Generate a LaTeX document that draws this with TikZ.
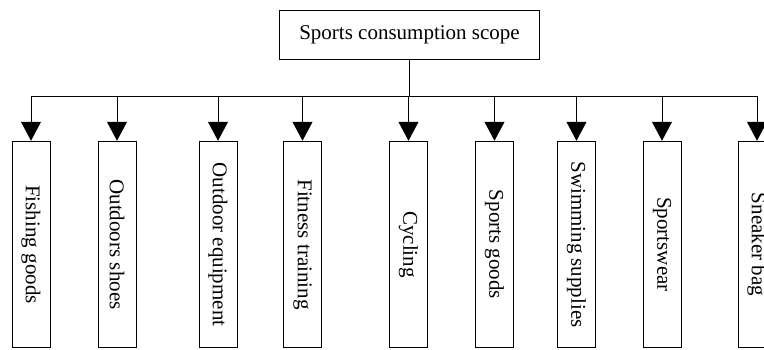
\documentclass[tikz,border=0pt]{standalone}
\usepackage{fontspec}
\setmainfont{Liberation Serif}
\usetikzlibrary{arrows.meta}
\tikzset{
  topbox/.style={draw, line width=1pt, minimum width=260pt, minimum height=49pt, inner sep=0pt, font=\fontsize{21}{25}\selectfont},
  catbox/.style={draw, line width=1pt, minimum width=38pt, minimum height=206.5pt, inner sep=0pt},
  cattext/.style={rotate=-90, font=\fontsize{21}{25}\selectfont, inner sep=0pt},
  wire/.style={line width=1pt},
  arrowwire/.style={line width=1pt, -{Triangle[width=20pt,length=19pt]}, shorten >=0pt}
}
\begin{document}
\begin{tikzpicture}[x=1pt, y=-1pt]
\useasboundingbox (0,0) rectangle (764,349);
\clip (0,0) rectangle (764,349);
\node[topbox] (top) at (409.5,34.5) {Sports consumption scope};
\coordinate (busL) at (31,96);
\coordinate (busR) at (757,96);
\draw[wire] (top.south) -- (top.south |- busL);
\draw[wire] (busL) -- (busR);
\foreach \nm/\xx/\txt in {c1/31/Fishing goods, c2/117/Outdoors shoes, c3/218/Outdoor equipment, c4/302.5/Fitness training, c5/408.5/Cycling, c6/494.5/Sports goods, c7/576.5/Swimming supplies, c8/662/Sportswear, c9/757/Sneaker bag}{
  \node[catbox] (\nm) at (\xx,244.5) {};
  \node[cattext] (\nm t) at (\nm.center) {\txt};
  \draw[arrowwire] (\nm.north |- busL) -- (\nm.north);
}
\end{tikzpicture}
\end{document}
